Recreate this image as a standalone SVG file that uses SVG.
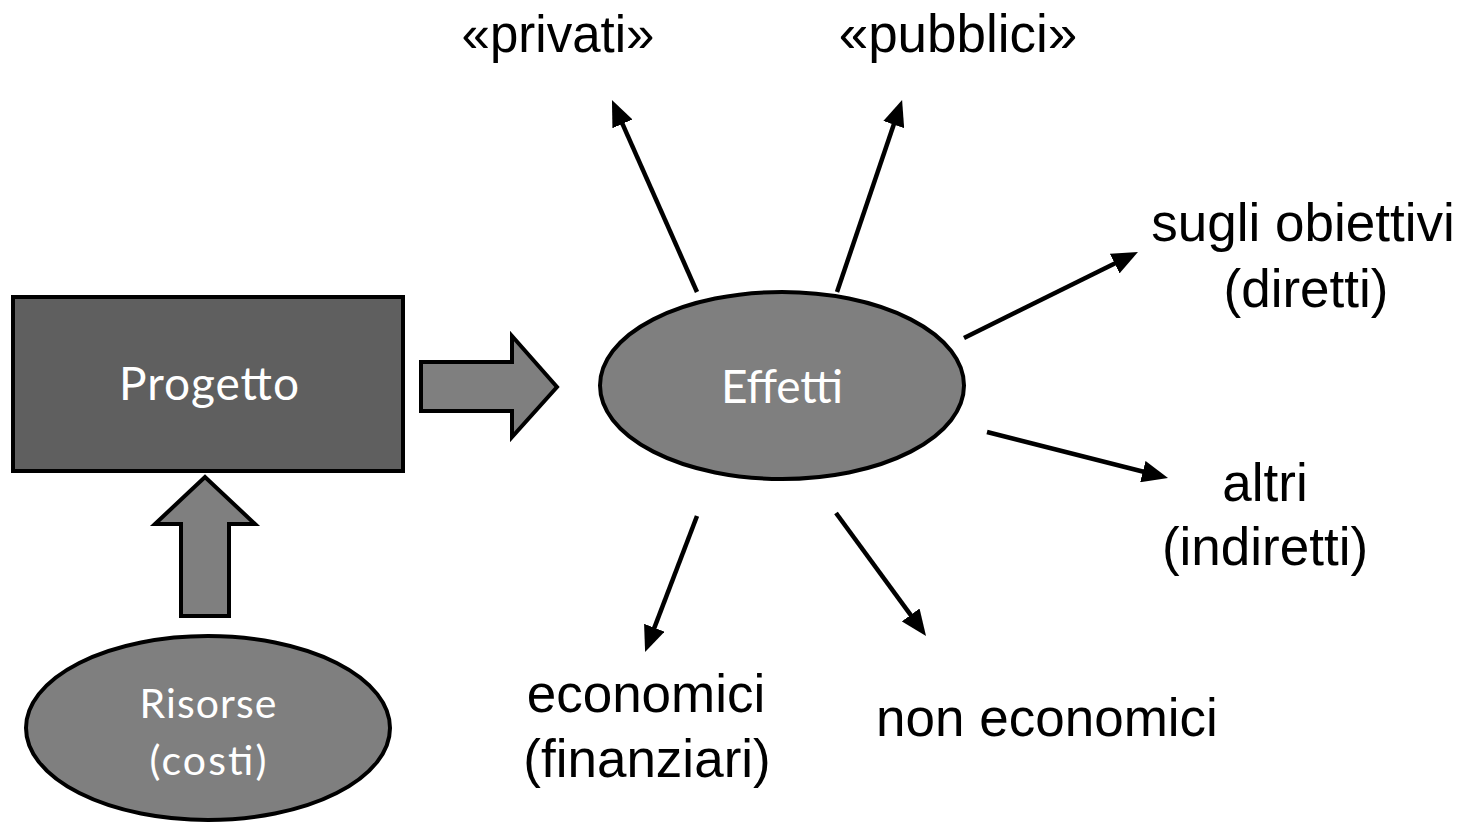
<svg xmlns="http://www.w3.org/2000/svg" width="1465" height="822" viewBox="0 0 1465 822">
<style>
.shape{stroke:#000;stroke-width:4;stroke-linejoin:miter}
.dark{fill:#5f5f5f}
.mid{fill:#7f7f7f}
.inner{font-family:Lato,"Open Sans",sans-serif;fill:#fff;text-anchor:middle}
.lbl{font-family:"Liberation Sans",Arial,sans-serif;fill:#000;font-size:53px;text-anchor:middle}
.conn{stroke:#000;stroke-width:4.5;fill:none;marker-end:url(#ah)}
</style>
<defs>
<marker id="ah" markerUnits="userSpaceOnUse" markerWidth="26" markerHeight="22" refX="17" refY="11" orient="auto">
<path d="M0,0 L26,11 L0,22 z" fill="#000"/>
</marker>
</defs>
<rect width="1465" height="822" fill="#fff"/>

<g id="progetto">
<rect class="shape dark" x="13" y="297" width="390" height="174"/>
<text class="inner" x="209" y="400" font-size="46" textLength="180" lengthAdjust="spacing">Progetto</text>
</g>

<g id="risorse">
<ellipse class="shape mid" cx="208" cy="728" rx="182" ry="92"/>
<text class="inner" x="208" y="718" font-size="41" textLength="137" lengthAdjust="spacing">Risorse</text>
<text class="inner" x="208" y="775" font-size="41" textLength="117" lengthAdjust="spacing">(costi)</text>
</g>

<g id="effetti">
<ellipse class="shape mid" cx="782" cy="385.5" rx="182" ry="93.5"/>
<text class="inner" x="782" y="403" font-size="46" textLength="122" lengthAdjust="spacing">Effetti</text>
</g>

<g id="freccia-destra">
<polygon class="shape mid" points="421,362 512,362 512,336 557,387 512,437 512,411 421,411"/>
</g>
<g id="freccia-su">
<polygon class="shape mid" points="181,616 181,524 155,524 205,477 255,524 229,524 229,616"/>
</g>

<g id="connettori">
<line class="conn" x1="697" y1="292" x2="615.6" y2="108.3"/>
<line class="conn" x1="837" y1="292" x2="899.2" y2="108.5"/>
<line class="conn" x1="964" y1="338" x2="1129.9" y2="256"/>
<line class="conn" x1="987" y1="432" x2="1159.3" y2="475.8"/>
<line class="conn" x1="697" y1="516" x2="648.3" y2="643.6"/>
<line class="conn" x1="836" y1="513" x2="920.7" y2="628.7"/>
</g>

<g id="privati"><text class="lbl" x="558" y="52" style="font-size:51px">«privati»</text></g>
<g id="pubblici"><text class="lbl" x="958" y="52">«pubblici»</text></g>
<g id="sugli-obiettivi">
<text class="lbl" x="1303" y="241">sugli obiettivi</text>
<text class="lbl" x="1306" y="307">(diretti)</text>
</g>
<g id="altri">
<text class="lbl" x="1265" y="501">altri</text>
<text class="lbl" x="1265" y="565">(indiretti)</text>
</g>
<g id="economici">
<text class="lbl" x="646" y="712">economici</text>
<text class="lbl" x="647" y="777">(finanziari)</text>
</g>
<g id="non-economici"><text class="lbl" x="1047" y="736">non economici</text></g>
</svg>
